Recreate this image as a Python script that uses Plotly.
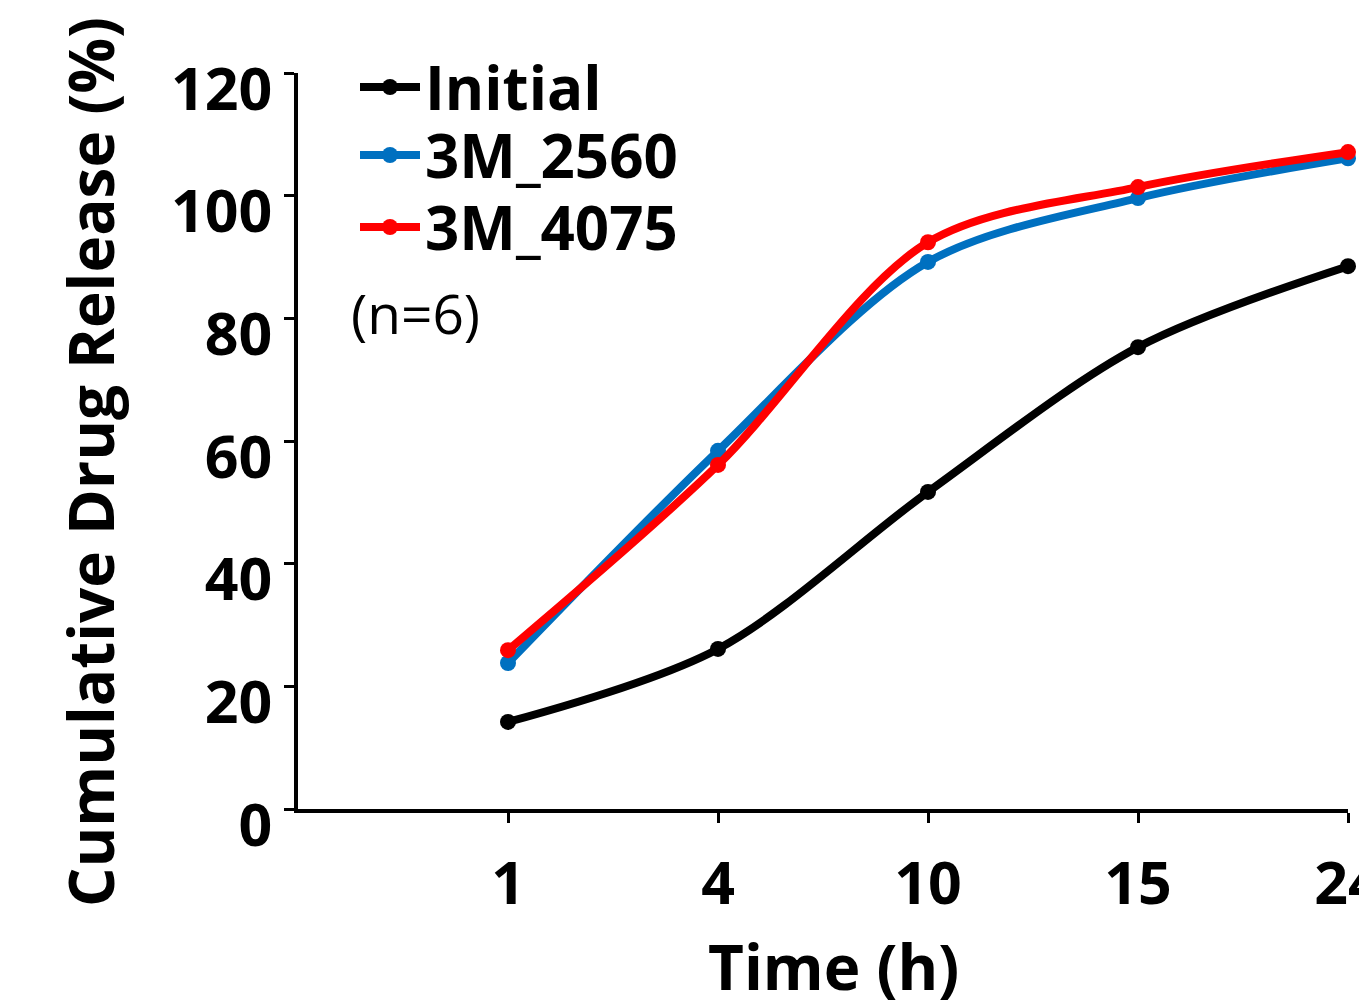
import plotly.graph_objects as go

time_labels = ["1", "4", "10", "15", "24"]
x_pos = [1, 2, 3, 4, 5]
initial = [14.2, 26.1, 51.7, 75.3, 88.5]
m2560 = [23.8, 58.4, 89.2, 99.6, 106.1]
m4075 = [25.9, 56.1, 92.4, 101.4, 107.1]

series = [("Initial", initial, "#000000", "legend"),
          ("3M_2560", m2560, "#0070C0", "legend2"),
          ("3M_4075", m4075, "#FF0000", "legend3")]

FONT = "Open Sans"
L, R, T, B = 298, 11, 73, 192
W, H = 1359, 1001
pw = W - L - R
ph = H - T - B

def px(x):
    return (x - L) / pw

def py(y):
    return (H - B - y) / ph

fig = go.Figure()
for name, vals, col, lg in series:
    fig.add_trace(go.Scatter(
        x=x_pos, y=vals, name=name, mode="lines+markers",
        line=dict(color=col, width=8, shape="spline", smoothing=0.9),
        marker=dict(color=col, size=16),
        cliponaxis=False, legend=lg,
    ))

legend_font = dict(family=FONT, size=60, color="black", weight="bold")
def mk_legend(ycenter):
    return dict(x=px(355), y=py(ycenter), xanchor="left", yanchor="middle",
                font=legend_font, bgcolor="rgba(0,0,0,0)", itemwidth=60,
                borderwidth=0)

tick_font = dict(family=FONT, size=59, color="black", weight="bold")
fig.update_layout(
    width=W, height=H,
    margin=dict(l=L, r=R, t=T, b=B, autoexpand=False),
    paper_bgcolor="white", plot_bgcolor="white",
    font=dict(family=FONT, color="black"),
    showlegend=True,
    legend=mk_legend(87),
    legend2=mk_legend(155),
    legend3=mk_legend(227),
    xaxis=dict(range=[0, 5], tickvals=x_pos, ticktext=time_labels,
               showgrid=False, zeroline=False, showline=True, automargin=False,
               linecolor="black", linewidth=4, ticks="outside", ticklen=10,
               tickwidth=3, tickcolor="black", tickfont=tick_font,
               ticklabelstandoff=10, ticklabeloverflow="allow"),
    yaxis=dict(range=[0, 120], tickvals=[0, 20, 40, 60, 80, 100, 120],
               showgrid=False, zeroline=False, showline=True, automargin=False,
               linecolor="black", linewidth=4, ticks="outside", ticklen=10,
               tickwidth=3, tickcolor="black", tickfont=tick_font,
               ticklabelstandoff=0, ticklabelshift=16,
               ticklabeloverflow="allow"),
    annotations=[
        dict(text="Cumulative Drug Release (%)", x=px(90), y=py(462),
             xref="paper", yref="paper", showarrow=False, textangle=-90,
             xanchor="center", yanchor="middle",
             font=dict(family=FONT, size=62, color="black", weight="bold")),
        dict(text="Time (h)", x=px(833), y=py(966), xref="paper", yref="paper",
             showarrow=False, xanchor="center", yanchor="middle",
             font=dict(family=FONT, size=62, color="black", weight="bold")),
        dict(text="(n=6)", x=px(349), y=py(312), xref="paper", yref="paper",
             showarrow=False, xanchor="left", yanchor="middle",
             font=dict(family=FONT, size=55, color="black")),
    ],
)

fig.write_html("out.html", config={"displayModeBar": False},
               post_script="document.body.style.margin='0';")
